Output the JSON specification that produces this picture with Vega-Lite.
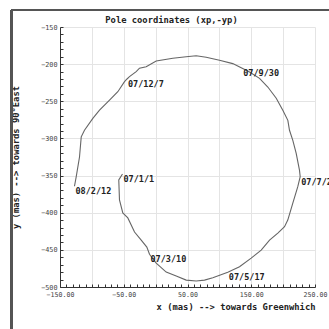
{
  "$schema": "https://vega.github.io/schema/vega-lite/v6.json",
  "width": 255,
  "height": 260,
  "autosize": {"type": "none"},
  "padding": {"left": 60, "top": 27, "right": 14, "bottom": 42},
  "background": "white",
  "config": {"view": {"stroke": null}},
  "title": {
    "text": "Pole coordinates (xp,-yp)",
    "font": "DejaVu Sans Mono",
    "fontWeight": "bold",
    "fontSize": 8.8,
    "color": "#222",
    "anchor": "middle",
    "baseline": "bottom",
    "dx": -16,
    "offset": -25
  },
  "resolve": {"axis": {"x": "independent", "y": "independent"}},
  "data": {
    "values": [
      {"i": 1, "x": -52, "y": -347.8, "label": "07/1/1"},
      {"i": 2, "x": -57.8, "y": -355.9, "label": ""},
      {"i": 3, "x": -56.7, "y": -382.8, "label": ""},
      {"i": 4, "x": -51.5, "y": -400.3, "label": ""},
      {"i": 5, "x": -43.6, "y": -407, "label": ""},
      {"i": 6, "x": -33.1, "y": -426, "label": ""},
      {"i": 7, "x": -22.6, "y": -436.8, "label": ""},
      {"i": 8, "x": -13.8, "y": -446.2, "label": ""},
      {"i": 9, "x": -9.6, "y": -456, "label": "07/3/10"},
      {"i": 10, "x": 0.9, "y": -467.8, "label": ""},
      {"i": 11, "x": 16.6, "y": -479.9, "label": ""},
      {"i": 12, "x": 32.3, "y": -485.3, "label": ""},
      {"i": 13, "x": 48, "y": -490.7, "label": ""},
      {"i": 14, "x": 63.6, "y": -492, "label": ""},
      {"i": 15, "x": 76.7, "y": -490.7, "label": ""},
      {"i": 16, "x": 89.7, "y": -487.6, "label": ""},
      {"i": 17, "x": 113.2, "y": -480, "label": "07/5/17"},
      {"i": 18, "x": 131.6, "y": -472.8, "label": ""},
      {"i": 19, "x": 149.9, "y": -461.1, "label": ""},
      {"i": 20, "x": 165.6, "y": -450.3, "label": ""},
      {"i": 21, "x": 178.7, "y": -436.9, "label": ""},
      {"i": 22, "x": 191.7, "y": -427.4, "label": ""},
      {"i": 23, "x": 202.2, "y": -418.9, "label": ""},
      {"i": 24, "x": 207.3, "y": -409.9, "label": ""},
      {"i": 25, "x": 215.2, "y": -387, "label": ""},
      {"i": 26, "x": 223, "y": -365, "label": ""},
      {"i": 27, "x": 226.8, "y": -351.5, "label": "07/7/24"},
      {"i": 28, "x": 225.7, "y": -343, "label": ""},
      {"i": 29, "x": 220.5, "y": -320, "label": ""},
      {"i": 30, "x": 215.2, "y": -302.5, "label": ""},
      {"i": 31, "x": 210, "y": -289, "label": ""},
      {"i": 32, "x": 207.4, "y": -275.6, "label": ""},
      {"i": 33, "x": 199.5, "y": -262, "label": ""},
      {"i": 34, "x": 189.2, "y": -245.9, "label": ""},
      {"i": 35, "x": 176, "y": -230.8, "label": ""},
      {"i": 36, "x": 163, "y": -219.1, "label": ""},
      {"i": 37, "x": 146, "y": -210, "label": ""},
      {"i": 38, "x": 135.8, "y": -205.5, "label": "07/9/30"},
      {"i": 39, "x": 121, "y": -199.3, "label": ""},
      {"i": 40, "x": 100.2, "y": -194.7, "label": ""},
      {"i": 41, "x": 79.3, "y": -190.8, "label": ""},
      {"i": 42, "x": 63.6, "y": -188.7, "label": ""},
      {"i": 43, "x": 48, "y": -190, "label": ""},
      {"i": 44, "x": 27, "y": -192, "label": ""},
      {"i": 45, "x": 0.9, "y": -195.7, "label": ""},
      {"i": 46, "x": -14.8, "y": -203.4, "label": ""},
      {"i": 47, "x": -25.3, "y": -205.5, "label": ""},
      {"i": 48, "x": -30.5, "y": -210.1, "label": ""},
      {"i": 49, "x": -41, "y": -216.8, "label": ""},
      {"i": 50, "x": -44.9, "y": -220, "label": "07/12/7"},
      {"i": 51, "x": -48.8, "y": -223.6, "label": ""},
      {"i": 52, "x": -59.3, "y": -237.1, "label": ""},
      {"i": 53, "x": -72.3, "y": -248.4, "label": ""},
      {"i": 54, "x": -88, "y": -261.9, "label": ""},
      {"i": 55, "x": -98.5, "y": -273.1, "label": ""},
      {"i": 56, "x": -111.6, "y": -288.9, "label": ""},
      {"i": 57, "x": -116.7, "y": -297.9, "label": ""},
      {"i": 58, "x": -119.4, "y": -325, "label": ""},
      {"i": 59, "x": -124.6, "y": -351.8, "label": ""},
      {"i": 60, "x": -127.3, "y": -364.4, "label": "08/2/12"}
    ]
  },
  "layer": [
    {
      "mark": {"type": "line", "color": "#666", "strokeWidth": 1.1},
      "encoding": {
        "x": {
          "field": "x",
          "type": "quantitative",
          "scale": {"domain": [-150, 250], "nice": false, "zero": false},
          "axis": {
            "values": [-150,-140,-130,-120,-110,-100,-90,-80,-70,-60,-50,-40,-30,-20,-10,0,10,20,30,40,50,60,70,80,90,100,110,120,130,140,150,160,170,180,190,200,210,220,230,240,250],
            "labelExpr": "(datum.value + 150) % 100 === 0 ? format(datum.value, '.2f') : ''",
            "labelFlush": false,
            "labelOverlap": false,
            "labelFont": "DejaVu Sans Mono",
            "labelFontSize": 6.6,
            "labelColor": "#444",
            "labelPadding": 7,
            "grid": true,
            "gridColor": {"condition": {"test": "datum.value % 50 === 0", "value": "#e4e4e4"}, "value": "transparent"},
            "tickSize": -3,
            "tickColor": "#333",
            "domainColor": "#333",
            "title": "x (mas) --> towards Greenwhich",
            "titleAnchor": "end",
            "titleFont": "DejaVu Sans Mono",
            "titleFontWeight": "bold",
            "titleFontSize": 8.8,
            "titleColor": "#222",
            "titlePadding": 5
          }
        },
        "y": {
          "field": "y",
          "type": "quantitative",
          "scale": {"domain": [-500, -150], "nice": false, "zero": false},
          "axis": {
            "values": [-500,-490,-480,-470,-460,-450,-440,-430,-420,-410,-400,-390,-380,-370,-360,-350,-340,-330,-320,-310,-300,-290,-280,-270,-260,-250,-240,-230,-220,-210,-200,-190,-180,-170,-160,-150],
            "labelExpr": "datum.value % 50 === 0 ? format(datum.value, 'd') : ''",
            "labelOverlap": false,
            "labelFlush": false,
            "labelFont": "DejaVu Sans Mono",
            "labelFontSize": 6.8,
            "labelColor": "#444",
            "labelPadding": 6,
            "grid": true,
            "gridColor": {"condition": {"test": "datum.value % 50 === 0 && datum.value > -500", "value": "#e4e4e4"}, "value": "transparent"},
            "tickSize": -3,
            "tickColor": "#333",
            "domainColor": "#333",
            "title": "y (mas) --> towards 90°East",
            "titleFont": "DejaVu Sans Mono",
            "titleFontWeight": "bold",
            "titleFontSize": 8.8,
            "titleColor": "#222",
            "titlePadding": 20
          }
        },
        "order": {"field": "i", "type": "quantitative"}
      }
    },
    {
      "transform": [{"filter": "datum.label !== ''"}],
      "mark": {"type": "text", "align": "left", "baseline": "top", "dx": 1, "dy": 1, "font": "DejaVu Sans Mono", "fontWeight": "bold", "fontSize": 8.5, "color": "#222"},
      "encoding": {
        "x": {"field": "x", "type": "quantitative", "axis": null},
        "y": {"field": "y", "type": "quantitative", "axis": null},
        "text": {"field": "label"}
      }
    },
    {
      "mark": {"type": "rule", "color": "#555", "strokeWidth": 2},
      "encoding": {
        "x": {"datum": -226, "axis": null},
        "y": {"datum": -127, "axis": null},
        "x2": {"datum": 320}
      }
    },
    {
      "mark": {"type": "rule", "color": "#555", "strokeWidth": 2},
      "encoding": {
        "x": {"datum": -226, "axis": null},
        "y": {"datum": -127, "axis": null},
        "y2": {"datum": -620}
      }
    }
  ]
}
